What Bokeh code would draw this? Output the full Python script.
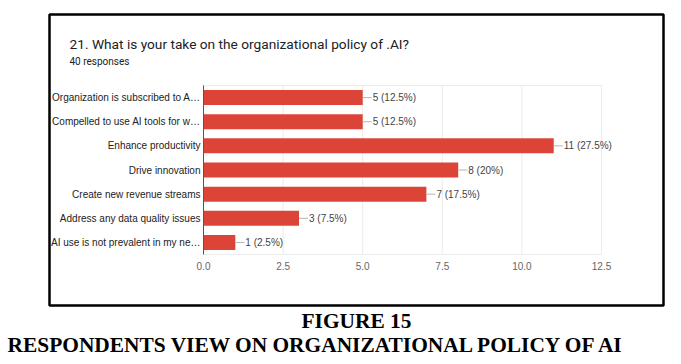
from bokeh.plotting import figure
from bokeh.models import (Range1d, FixedTicker, PrintfTickFormatter, Label,
                          ColumnDataSource)
from bokeh.core.properties import value
from bokeh.embed import file_html
from bokeh.resources import INLINE

# ---- data ----
categories = [
    "Organization is subscribed to A\u2026",
    "Compelled to use AI tools for w\u2026",
    "Enhance productivity",
    "Drive innovation",
    "Create new revenue streams",
    "Address any data quality issues",
    "AI use is not prevalent in my ne\u2026",
]
counts = [5, 5, 11, 8, 7, 3, 1]
total_responses = 40
x_ticks = [0, 2.5, 5, 7.5, 10, 12.5]
title_text = "21. What is your take on the organizational policy of .AI?"
subtitle_text = "40 responses"
caption_1 = "FIGURE 15"
caption_2 = "RESPONDENTS VIEW ON ORGANIZATIONAL POLICY OF AI"

value_labels = [f"{c} ({c / total_responses * 100:g}%)" for c in counts]
n_rows = len(categories)
row_pos = list(range(n_rows))[::-1]          # first category on top
row_lo, row_hi = -0.5, n_rows - 0.5

# ---- layout (pixels) ----
W, H = 675, 360
AREA_L, AREA_R = 203, 601      # pixel of x_ticks[0] and x_ticks[-1]
AREA_T, AREA_B = 85, 254       # pixel of top and bottom of the bar area
XS = (AREA_R - AREA_L) / (x_ticks[-1] - x_ticks[0])
YS = (AREA_B - AREA_T) / n_rows

def X(px):
    return x_ticks[0] + (px - AREA_L) / XS

def Y(py):
    return row_lo + (AREA_B - py) / YS

src = ColumnDataSource(dict(y=row_pos, n=counts, lab=value_labels))

p = figure(
    width=W, height=H,
    x_range=Range1d(X(0), X(W)), y_range=Range1d(Y(H), Y(0)),
    output_backend="svg", toolbar_location=None,
    min_border=0, background_fill_color="white", border_fill_color="white",
)
p.outline_line_color = None
p.xgrid.grid_line_color = None
p.ygrid.grid_line_color = None

# outer black box
p.quad(left=X(49), right=X(663), top=Y(14), bottom=Y(305),
       fill_color=None, line_color="black", line_width=2.5)

# chart area border + vertical gridlines
p.segment(x0=x_ticks, x1=x_ticks, y0=[row_lo] * len(x_ticks), y1=[row_hi] * len(x_ticks),
          line_color="#ebebeb", line_width=1)
p.segment(x0=[x_ticks[0], x_ticks[0]], x1=[x_ticks[-1], x_ticks[-1]],
          y0=[row_lo, row_hi], y1=[row_lo, row_hi], line_color="#ebebeb", line_width=1)

# bars
p.hbar(y="y", right="n", left=0, height=0.62, source=src,
       fill_color="#db4437", line_color=None)
p.ray(x="n", y="y", length=9, length_units="screen", angle=0,
      line_color="#b4b4b4", line_width=1, source=src)
p.text(x="n", y="y", text="lab", source=src, x_offset=10,
       text_baseline="middle", text_align="left",
       text_font=value("Liberation Sans"), text_font_size="10px",
       text_color="#444444")

# x axis
xa = p.xaxis[0]
xa.fixed_location = row_lo
xa.bounds = (x_ticks[0], x_ticks[-1])
xa.ticker = FixedTicker(ticks=x_ticks)
xa.formatter = PrintfTickFormatter(format="%.1f")
xa.axis_line_color = None
xa.major_tick_line_color = None
xa.minor_tick_line_color = None
xa.major_tick_out = 0
xa.major_tick_in = 0
xa.major_label_text_font = "Liberation Sans"
xa.major_label_text_font_size = "10px"
xa.major_label_text_color = "#666666"
xa.major_label_standoff = 7

# y axis (categories)
ya = p.yaxis[0]
ya.fixed_location = x_ticks[0]
ya.bounds = (row_lo, row_hi)
ya.ticker = FixedTicker(ticks=row_pos)
ya.major_label_overrides = {r: c for r, c in zip(row_pos, categories)}
ya.axis_line_color = "#555555"
ya.axis_line_width = 1
ya.major_tick_line_color = None
ya.minor_tick_line_color = None
ya.major_tick_out = 0
ya.major_tick_in = 0
ya.major_label_text_font = "Liberation Sans"
ya.major_label_text_font_size = "10px"
ya.major_label_text_color = "#222222"
ya.major_label_standoff = 3

# texts
p.add_layout(Label(x=X(69), y=Y(43), text=title_text, text_font="Roboto",
                   text_font_size="13.7px", text_color="#202124", text_baseline="middle"))
p.add_layout(Label(x=X(69), y=Y(61), text=subtitle_text, text_font="Roboto",
                   text_font_size="10px", text_color="#202124", text_baseline="middle"))
p.add_layout(Label(x=X(356), y=Y(320), text=caption_1, text_font="Liberation Serif",
                   text_font_style="bold", text_font_size="21.4px", text_color="black",
                   text_baseline="middle", text_align="center"))
p.add_layout(Label(x=X(316.5), y=Y(344), text=caption_2, text_font="Liberation Serif",
                   text_font_style="bold", text_font_size="21.4px", text_color="black",
                   text_baseline="middle", text_align="center"))

open("out.html", "w").write(file_html(p, INLINE))
